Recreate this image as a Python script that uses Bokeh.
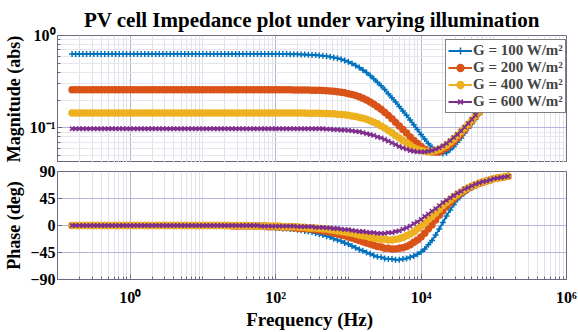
from bokeh.plotting import figure
from bokeh.layouts import column
from bokeh.models import Range1d, FixedTicker, CustomJSTickFormatter, Legend, LegendItem
from bokeh.embed import file_html
from bokeh.resources import INLINE

# ---------------- data ----------------
FREQ_HZ = [
    0.1585, 0.1778, 0.1995, 0.2239, 0.2512, 0.2818, 0.3162, 0.3548, 0.3981, 0.4467,
    0.5012, 0.5623, 0.6310, 0.7079, 0.7943, 0.8913,
    1.000, 1.122, 1.259, 1.413, 1.585, 1.778, 1.995, 2.239, 2.512, 2.818,
    3.162, 3.548, 3.981, 4.467, 5.012, 5.623, 6.310, 7.079, 7.943, 8.913,
    10.00, 11.22, 12.59, 14.13, 15.85, 17.78, 19.95, 22.39, 25.12, 28.18,
    31.62, 35.48, 39.81, 44.67, 50.12, 56.23, 63.10, 70.79, 79.43, 89.13,
    100.0, 112.2, 125.9, 141.3, 158.5, 177.8, 199.5, 223.9, 251.2, 281.8,
    316.2, 354.8, 398.1, 446.7, 501.2, 562.3, 631.0, 707.9, 794.3, 891.3,
    1000, 1122, 1259, 1413, 1585, 1778, 1995, 2239, 2512, 2818,
    3162, 3548, 3981, 4467, 5012, 5623, 6310, 7079, 7943, 8913,
    10000, 11220, 12590, 14130, 15850, 17780, 19950, 22390, 25120, 28180,
    31620, 35480, 39810, 44670, 50120, 56230, 63100, 70790, 79430, 89130,
    100000, 112200, 125900, 141300, 158500,
]

MAG_G100 = [
    0.632, 0.632, 0.632, 0.632, 0.632, 0.632, 0.632, 0.632, 0.632, 0.632,
    0.632, 0.632, 0.632, 0.632, 0.632, 0.632, 0.632, 0.632, 0.632, 0.632,
    0.632, 0.632, 0.632, 0.632, 0.632, 0.632, 0.632, 0.632, 0.632, 0.632,
    0.632, 0.632, 0.632, 0.632, 0.632, 0.632, 0.632, 0.632, 0.632, 0.632,
    0.632, 0.632, 0.632, 0.632, 0.632, 0.632, 0.632, 0.632, 0.632, 0.632,
    0.632, 0.632, 0.632, 0.632, 0.632, 0.631, 0.631, 0.630, 0.630, 0.629,
    0.628, 0.627, 0.626, 0.624, 0.623, 0.620, 0.617, 0.614, 0.609, 0.603,
    0.597, 0.589, 0.579, 0.567, 0.553, 0.537, 0.519, 0.498, 0.475, 0.450,
    0.424, 0.397, 0.369, 0.340, 0.313, 0.286, 0.260, 0.235, 0.212, 0.191,
    0.171, 0.153, 0.137, 0.122, 0.108, 0.096, 0.085, 0.076, 0.068, 0.062,
    0.057, 0.054, 0.053, 0.054, 0.058, 0.063, 0.070, 0.078, 0.088, 0.099,
    0.112, 0.126, 0.143, 0.161, 0.181, 0.204, 0.230, 0.258, 0.290, 0.326,
    0.367,
]
MAG_G200 = [
    0.259, 0.259, 0.259, 0.259, 0.259, 0.259, 0.259, 0.259, 0.259, 0.259,
    0.259, 0.259, 0.259, 0.259, 0.259, 0.259, 0.259, 0.259, 0.259, 0.259,
    0.259, 0.259, 0.259, 0.259, 0.259, 0.259, 0.259, 0.259, 0.259, 0.259,
    0.259, 0.259, 0.259, 0.259, 0.259, 0.259, 0.259, 0.259, 0.259, 0.259,
    0.259, 0.259, 0.259, 0.259, 0.259, 0.259, 0.259, 0.259, 0.259, 0.259,
    0.259, 0.259, 0.259, 0.259, 0.259, 0.259, 0.259, 0.259, 0.259, 0.259,
    0.259, 0.258, 0.258, 0.258, 0.257, 0.257, 0.256, 0.256, 0.255, 0.254,
    0.252, 0.251, 0.249, 0.246, 0.243, 0.240, 0.235, 0.230, 0.224, 0.218,
    0.210, 0.201, 0.191, 0.181, 0.170, 0.159, 0.148, 0.137, 0.126, 0.115,
    0.105, 0.096, 0.088, 0.080, 0.073, 0.068, 0.063, 0.059, 0.056, 0.055,
    0.055, 0.055, 0.058, 0.061, 0.066, 0.071, 0.078, 0.086, 0.096, 0.106,
    0.119, 0.133, 0.148, 0.166, 0.186, 0.208, 0.233, 0.262, 0.293, 0.329,
    0.369,
]
MAG_G400 = [
    0.145, 0.145, 0.145, 0.145, 0.145, 0.145, 0.145, 0.145, 0.145, 0.145,
    0.145, 0.145, 0.145, 0.145, 0.145, 0.145, 0.145, 0.145, 0.145, 0.145,
    0.145, 0.145, 0.145, 0.145, 0.145, 0.145, 0.145, 0.145, 0.145, 0.145,
    0.145, 0.145, 0.145, 0.145, 0.145, 0.145, 0.145, 0.145, 0.145, 0.145,
    0.145, 0.145, 0.145, 0.145, 0.145, 0.145, 0.145, 0.145, 0.145, 0.145,
    0.145, 0.145, 0.145, 0.145, 0.145, 0.145, 0.145, 0.145, 0.145, 0.145,
    0.145, 0.145, 0.145, 0.145, 0.145, 0.144, 0.144, 0.144, 0.144, 0.143,
    0.143, 0.142, 0.142, 0.141, 0.140, 0.139, 0.137, 0.135, 0.133, 0.130,
    0.127, 0.124, 0.120, 0.115, 0.111, 0.105, 0.100, 0.094, 0.089, 0.083,
    0.078, 0.073, 0.069, 0.065, 0.061, 0.059, 0.057, 0.056, 0.055, 0.056,
    0.057, 0.059, 0.062, 0.065, 0.070, 0.076, 0.083, 0.091, 0.100, 0.110,
    0.122, 0.136, 0.151, 0.168, 0.188, 0.210, 0.235, 0.263, 0.295, 0.330,
    0.370,
]
MAG_G600 = [
    0.098, 0.098, 0.098, 0.098, 0.098, 0.098, 0.098, 0.098, 0.098, 0.098,
    0.098, 0.098, 0.098, 0.098, 0.098, 0.098, 0.098, 0.098, 0.098, 0.098,
    0.098, 0.098, 0.098, 0.098, 0.098, 0.098, 0.098, 0.098, 0.098, 0.098,
    0.098, 0.098, 0.098, 0.098, 0.098, 0.098, 0.098, 0.098, 0.098, 0.098,
    0.098, 0.098, 0.098, 0.098, 0.098, 0.098, 0.098, 0.098, 0.098, 0.098,
    0.098, 0.098, 0.098, 0.098, 0.098, 0.098, 0.098, 0.098, 0.098, 0.098,
    0.098, 0.098, 0.098, 0.098, 0.098, 0.098, 0.098, 0.098, 0.098, 0.098,
    0.097, 0.097, 0.096, 0.096, 0.095, 0.095, 0.094, 0.093, 0.092, 0.091,
    0.089, 0.087, 0.085, 0.083, 0.080, 0.078, 0.075, 0.072, 0.069, 0.066,
    0.063, 0.061, 0.059, 0.057, 0.056, 0.055, 0.055, 0.055, 0.056, 0.057,
    0.059, 0.061, 0.064, 0.068, 0.073, 0.079, 0.085, 0.093, 0.102, 0.112,
    0.124, 0.138, 0.153, 0.170, 0.190, 0.212, 0.236, 0.264, 0.296, 0.331,
    0.371,
]

PH_G100 = [
    0, 0, 0, 0, 0, 0, 0, 0, 0, 0,
    0, 0, 0, 0, 0, 0, 0, 0, 0, 0,
    0, 0, 0, 0, 0, 0, 0, 0, 0, 0,
    0, 0, 0, 0, 0, 0, 0, 0, 0, -1,
    -1, -1, -1, -1, -1, -1, -1, -1, -1, -2,
    -2, -2, -2, -3, -3, -3, -4, -4, -5, -5,
    -6, -6, -7, -8, -9, -10, -11, -13, -14, -16,
    -18, -19, -22, -24, -26, -29, -31, -34, -37, -40,
    -42, -45, -47, -50, -52, -53, -55, -56, -56, -57,
    -57, -56, -55, -53, -51, -48, -44, -39, -32, -25,
    -16, -6, 5, 16, 26, 35, 43, 49, 55, 59,
    63, 66, 69, 72, 74, 76, 78, 79, 80, 81,
    82,
]
PH_G200 = [
    0, 0, 0, 0, 0, 0, 0, 0, 0, 0,
    0, 0, 0, 0, 0, 0, 0, 0, 0, 0,
    0, 0, 0, 0, 0, 0, 0, 0, 0, 0,
    0, 0, 0, 0, 0, 0, 0, 0, 0, 0,
    0, 0, 0, 0, -1, -1, -1, -1, -1, -1,
    -1, -1, -1, -1, -2, -2, -2, -2, -3, -3,
    -3, -4, -4, -5, -5, -6, -6, -7, -8, -9,
    -10, -11, -13, -14, -16, -17, -19, -21, -23, -25,
    -27, -29, -31, -33, -35, -36, -38, -38, -39, -39,
    -38, -37, -35, -32, -28, -24, -19, -13, -6, 1,
    9, 17, 24, 32, 38, 44, 49, 54, 58, 62,
    65, 68, 70, 72, 74, 76, 78, 79, 80, 81,
    82,
]
PH_G400 = [
    0, 0, 0, 0, 0, 0, 0, 0, 0, 0,
    0, 0, 0, 0, 0, 0, 0, 0, 0, 0,
    0, 0, 0, 0, 0, 0, 0, 0, 0, 0,
    0, 0, 0, 0, 0, 0, 0, 0, 0, 0,
    0, 0, 0, 0, 0, 0, 0, 0, 0, -1,
    -1, -1, -1, -1, -1, -1, -1, -1, -2, -2,
    -2, -2, -2, -3, -3, -4, -4, -4, -5, -6,
    -6, -7, -8, -9, -10, -11, -12, -13, -14, -16,
    -17, -18, -20, -21, -22, -23, -23, -24, -24, -23,
    -22, -20, -17, -14, -11, -6, -1, 4, 10, 15,
    21, 27, 33, 38, 43, 48, 52, 56, 60, 63,
    66, 68, 71, 73, 74, 76, 78, 79, 80, 81,
    82,
]
PH_G600 = [
    0, 0, 0, 0, 0, 0, 0, 0, 0, 0,
    0, 0, 0, 0, 0, 0, 0, 0, 0, 0,
    0, 0, 0, 0, 0, 0, 0, 0, 0, 0,
    0, 0, 0, 0, 0, 0, 0, 0, 0, 0,
    0, 0, 0, 0, 0, 0, 0, 0, 0, 0,
    0, 0, -1, -1, -1, -1, -1, -1, -1, -1,
    -1, -1, -2, -2, -2, -2, -2, -3, -3, -3,
    -4, -4, -5, -5, -6, -7, -7, -8, -9, -10,
    -10, -11, -12, -12, -13, -13, -13, -12, -12, -10,
    -9, -6, -4, -1, 3, 6, 10, 15, 19, 24,
    28, 33, 38, 42, 46, 50, 54, 57, 61, 63,
    66, 69, 71, 73, 74, 76, 78, 79, 80, 81,
    82,
]

LABELS = ["G = 100 W/m²", "G = 200 W/m²", "G = 400 W/m²", "G = 600 W/m²"]
MAGS = [MAG_G100, MAG_G200, MAG_G400, MAG_G600]
PHASES = [PH_G100, PH_G200, PH_G400, PH_G600]

X_MAJOR = [1e0, 1e2, 1e4, 1e6]
X_MINOR = [0.2, 0.3, 0.4, 0.5, 0.6, 0.7, 0.8, 0.9,
           2, 3, 4, 5, 6, 7, 8, 9, 10,
           20, 30, 40, 50, 60, 70, 80, 90,
           200, 300, 400, 500, 600, 700, 800, 900, 1000,
           2000, 3000, 4000, 5000, 6000, 7000, 8000, 9000,
           20000, 30000, 40000, 50000, 60000, 70000, 80000, 90000, 100000,
           200000, 300000, 400000, 500000, 600000, 700000, 800000, 900000]
MAG_MAJOR = [0.1, 1.0]
MAG_MINOR = [0.05, 0.06, 0.07, 0.08, 0.09, 0.2, 0.3, 0.4, 0.5, 0.6, 0.7, 0.8, 0.9]
PH_TICKS = [-90, -45, 0, 45, 90]

# ---------------- styling ----------------
COLORS = ["#0072BD", "#D95319", "#EDB120", "#7E2F8E"]
MARKERS = ["cross", "circle", "circle", "x"]
FONT = "Liberation Serif"
AXC = "#6a6a80"

sup_js = """
const s = {"-":"\u207b","0":"\u2070","1":"\u00b9","2":"\u00b2","3":"\u00b3","4":"\u2074","5":"\u2075","6":"\u2076","7":"\u2077","8":"\u2078","9":"\u2079"};
const e = Math.round(Math.log10(tick));
return "10" + String(e).split("").map(c => s[c]).join("");
"""

def style(p):
    p.outline_line_color = AXC
    p.outline_line_width = 1
    for ax in (p.xaxis[0], p.yaxis[0]):
        ax.axis_line_color = AXC
        ax.major_tick_line_color = AXC
        ax.minor_tick_line_color = AXC
        ax.major_tick_in = 5; ax.major_tick_out = 0
        ax.minor_tick_in = 3; ax.minor_tick_out = 0
        ax.major_label_text_font = FONT
        ax.major_label_text_font_style = "bold"
        ax.major_label_text_font_size = "16px"
        ax.major_label_text_color = "black"
        ax.axis_label_text_font = FONT
        ax.axis_label_text_font_style = "bold"
        ax.axis_label_text_font_size = "18px"
        ax.axis_label_text_color = "black"
        ax.major_label_standoff = 2
        ax.axis_label_standoff = 3
    p.xaxis.ticker = FixedTicker(ticks=X_MAJOR, minor_ticks=X_MINOR)
    p.xgrid.ticker = p.xaxis[0].ticker
    p.xgrid.grid_line_color = "#b4b4cc"
    p.xgrid.minor_grid_line_color = "#e2e2ea"
    p.ygrid.grid_line_color = "#b4b4dc"
    p.background_fill_color = "white"
    p.border_fill_color = "white"

p1 = figure(width=578, height=162, x_axis_type="log", y_axis_type="log",
            x_range=Range1d(0.1, 1e6), y_range=Range1d(0.0423, 1.0),
            output_backend="svg", toolbar_location=None,
            min_border_left=57, min_border_right=12, min_border_top=35, min_border_bottom=0)
style(p1)
p1.xaxis.visible = False
p1.yaxis.ticker = FixedTicker(ticks=MAG_MAJOR, minor_ticks=MAG_MINOR)
p1.yaxis.formatter = CustomJSTickFormatter(code=sup_js)
p1.ygrid.ticker = p1.yaxis[0].ticker
p1.ygrid.minor_grid_line_color = "#e6e6ee"
p1.yaxis.axis_label = "Magnitude (abs)"
p1.title.text = "PV cell Impedance plot under varying illumination"
p1.title.text_font = FONT
p1.title.text_font_style = "bold"
p1.title.text_font_size = "21px"
p1.title.text_color = "black"
p1.title.align = "center"
p1.title.standoff = 7

p2 = figure(width=578, height=170, x_axis_type="log",
            x_range=p1.x_range, y_range=Range1d(-90, 90),
            output_backend="svg", toolbar_location=None,
            min_border_left=57, min_border_right=12, min_border_top=9, min_border_bottom=48)
style(p2)
p2.yaxis.ticker = FixedTicker(ticks=PH_TICKS)
p2.xaxis.formatter = CustomJSTickFormatter(code=sup_js)
p2.xaxis.major_label_standoff = 9
p2.xaxis.axis_label_standoff = 0
p2.xaxis.axis_label_text_font_size = "19px"
p2.yaxis.axis_label = "Phase (deg)"
p2.xaxis.axis_label = "Frequency  (Hz)"

items = []
for i in range(4):
    l1 = p1.line(FREQ_HZ, MAGS[i], line_color=COLORS[i], line_width=2)
    s1 = p1.scatter(FREQ_HZ, MAGS[i], marker=MARKERS[i], size=6, line_color=COLORS[i],
                    fill_color=COLORS[i], line_width=1.5)
    items.append(LegendItem(label=LABELS[i], renderers=[l1, s1]))
    p2.line(FREQ_HZ, PHASES[i], line_color=COLORS[i], line_width=2)
    p2.scatter(FREQ_HZ, PHASES[i], marker=MARKERS[i], size=6, line_color=COLORS[i],
               fill_color=COLORS[i], line_width=1.5)

leg = Legend(items=items, location=(388, 49), margin=0, padding=2, spacing=0,
             label_text_font=FONT, label_text_font_style="bold", label_text_font_size="15px",
             label_height=17, glyph_height=17, glyph_width=24, label_standoff=1,
             border_line_color="black", border_line_width=1, background_fill_alpha=1)
p1.add_layout(leg)

layout = column(p1, p2)
open("out.html", "w").write(file_html(layout, INLINE))
